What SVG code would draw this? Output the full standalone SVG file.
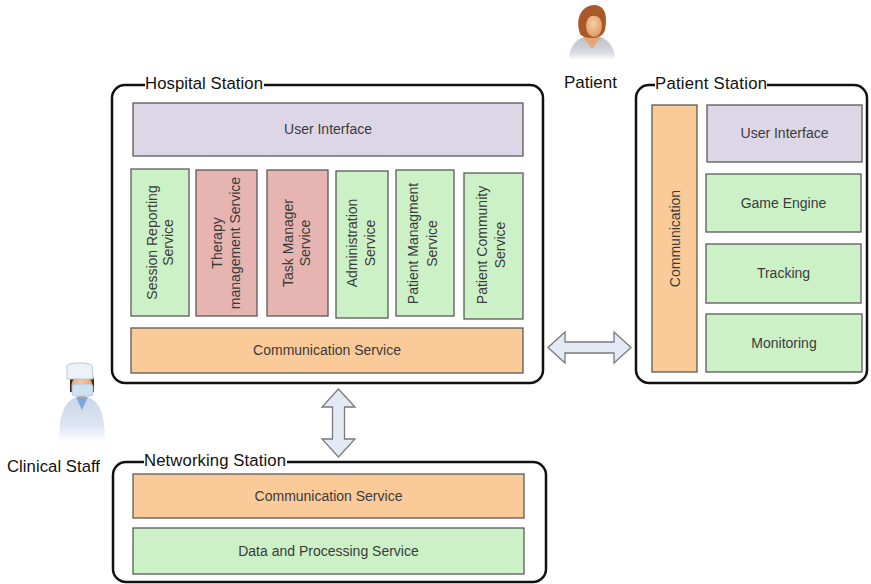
<svg xmlns="http://www.w3.org/2000/svg" width="871" height="584" viewBox="0 0 871 584">
  <defs>
    <style>
      .frame { fill: none; stroke: #111; stroke-width: 2.5; }
      .title { font-family: "Liberation Sans", Arial, sans-serif; font-size: 16.7px; fill: #111; }
      .box { stroke: #5a5a5a; stroke-width: 1.3; }
      .ui { fill: #ddd6e6; }
      .svc { fill: #cdf1c7; }
      .red { fill: #e6b4b1; }
      .comm { fill: #fbca99; }
      .lbl { font-family: "Liberation Sans", Arial, sans-serif; font-size: 14px; fill: #3a3a3a; text-anchor: middle; }
      .arrow { fill: #e3eaf6; stroke: #7a7a7a; stroke-width: 1.3; stroke-linejoin: miter; }
    </style>
    <linearGradient id="shirtGrey" x1="0" y1="0" x2="0" y2="1">
      <stop offset="0" stop-color="#b9bec6"/>
      <stop offset="0.7" stop-color="#d9dce1"/>
      <stop offset="1" stop-color="#ffffff"/>
    </linearGradient>
    <linearGradient id="coatBlue" x1="0" y1="0" x2="0" y2="1">
      <stop offset="0" stop-color="#c9d6ea"/>
      <stop offset="0.65" stop-color="#dde5f2"/>
      <stop offset="1" stop-color="#ffffff"/>
    </linearGradient>
    <radialGradient id="skin" cx="0.45" cy="0.4" r="0.6">
      <stop offset="0" stop-color="#f8cfa6"/>
      <stop offset="1" stop-color="#e09a66"/>
    </radialGradient>
  </defs>

  <!-- people -->
  <g id="patient">
    <path d="M569,60 C569,44 579,36 592,36 C605,36 615,44 615,60 Z" fill="url(#shirtGrey)"/>
    <path d="M583,37 L601,37 L592,49 Z" fill="#e6a676"/>
    <path d="M580,34 C574,16 584,5 594,5 C604,5 608,14 605,30 C603,36 598,38 592,38 C586,38 583,37 580,34 Z" fill="#a9592a"/>
    <ellipse cx="594" cy="26" rx="8" ry="11" fill="url(#skin)"/>
    <path d="M585,20 C588,10 600,10 603,20 C598,15 590,14 585,20 Z" fill="#a9592a"/>
    <text class="title" x="564" y="88" style="font-size:17px">Patient</text>
  </g>

  <g id="clinical-staff">
    <path d="M59,442 C59,410 66,398 82,396 C98,398 105,410 105,442 Z" fill="url(#coatBlue)"/>
    <path d="M76,397 L88,397 L82,410 Z" fill="#7fa6d4"/>
    <path d="M70,380 C70,370 94,370 94,380 L94,392 L70,392 Z" fill="#3a2a20"/>
    <ellipse cx="82" cy="386" rx="10.5" ry="11" fill="url(#skin)"/>
    <rect x="72" y="384" width="21" height="12" rx="3" fill="#cfe1f1" stroke="#a8c0da" stroke-width="0.8"/>
    <path d="M67,366 C67,362 91,362 92,366 L93,379 L67,379 Z" fill="#edf2f9" stroke="#b9c6d8" stroke-width="1"/>
    <text class="title" x="7" y="472" textLength="93">Clinical Staff</text>
  </g>

  <!-- Hospital Station -->
  <g id="hospital-station">
    <path class="frame" d="M264,85 H530 A13,13 0 0 1 543,98 V370 A13,13 0 0 1 530,383 H125 A13,13 0 0 1 112,370 V98 A13,13 0 0 1 125,85 H145"/>
    <text class="title" x="145" y="89" textLength="118">Hospital Station</text>

    <g id="hs-user-interface">
      <rect class="box ui" x="133" y="103" width="390" height="53"/>
      <text class="lbl" x="328" y="134">User Interface</text>
    </g>
    <g id="hs-session-reporting">
      <rect class="box svc" x="131" y="169" width="58" height="147"/>
      <text class="lbl" transform="translate(160,242.5) rotate(-90)"><tspan x="0" y="-3">Session Reporting</tspan><tspan x="0" y="13">Service</tspan></text>
    </g>
    <g id="hs-therapy-management">
      <rect class="box red" x="196" y="170" width="61" height="146"/>
      <text class="lbl" transform="translate(226.5,243) rotate(-90)"><tspan x="0" y="-4.5">Therapy</tspan><tspan x="0" y="13.5">management Service</tspan></text>
    </g>
    <g id="hs-task-manager">
      <rect class="box red" x="267" y="170" width="61" height="146"/>
      <text class="lbl" transform="translate(297.5,243) rotate(-90)"><tspan x="0" y="-4.5">Task Manager</tspan><tspan x="0" y="12.5">Service</tspan></text>
    </g>
    <g id="hs-administration">
      <rect class="box svc" x="336" y="171" width="52" height="147"/>
      <text class="lbl" transform="translate(362,243) rotate(-90)"><tspan x="0" y="-5">Administration</tspan><tspan x="0" y="13">Service</tspan></text>
    </g>
    <g id="hs-patient-managment">
      <rect class="box svc" x="396" y="170" width="58" height="146"/>
      <text class="lbl" transform="translate(425,243.5) rotate(-90)"><tspan x="0" y="-7">Patient Managment</tspan><tspan x="0" y="12">Service</tspan></text>
    </g>
    <g id="hs-patient-community">
      <rect class="box svc" x="464" y="173" width="59" height="146"/>
      <text class="lbl" transform="translate(493.5,245) rotate(-90)"><tspan x="0" y="-6.5">Patient Community</tspan><tspan x="0" y="11.5">Service</tspan></text>
    </g>
    <g id="hs-communication">
      <rect class="box comm" x="131" y="328" width="392" height="45"/>
      <text class="lbl" x="327" y="355">Communication Service</text>
    </g>
  </g>

  <!-- Patient Station -->
  <g id="patient-station">
    <path class="frame" d="M767,85 H854 A13,13 0 0 1 867,98 V370 A13,13 0 0 1 854,383 H649 A13,13 0 0 1 636,370 V98 A13,13 0 0 1 649,85 H655"/>
    <text class="title" x="655" y="89" textLength="112">Patient Station</text>

    <g id="ps-communication">
      <rect class="box comm" x="652" y="105" width="45" height="267"/>
      <text class="lbl" transform="translate(674.5,238.5) rotate(-90)"><tspan x="0" y="5">Communication</tspan></text>
    </g>
    <g id="ps-user-interface">
      <rect class="box ui" x="707" y="105" width="155" height="57"/>
      <text class="lbl" x="784.5" y="138">User Interface</text>
    </g>
    <g id="ps-game-engine">
      <rect class="box svc" x="706" y="174" width="155" height="58"/>
      <text class="lbl" x="783.5" y="208">Game Engine</text>
    </g>
    <g id="ps-tracking">
      <rect class="box svc" x="706" y="244" width="155" height="59"/>
      <text class="lbl" x="783.5" y="278">Tracking</text>
    </g>
    <g id="ps-monitoring">
      <rect class="box svc" x="706" y="314" width="156" height="58"/>
      <text class="lbl" x="784" y="348">Monitoring</text>
    </g>
  </g>

  <!-- Networking Station -->
  <g id="networking-station">
    <path class="frame" d="M287,462 H533 A13,13 0 0 1 546,475 V569 A13,13 0 0 1 533,582 H126 A13,13 0 0 1 113,569 V475 A13,13 0 0 1 126,462 H144"/>
    <text class="title" x="144" y="466" textLength="142">Networking Station</text>

    <g id="ns-communication">
      <rect class="box comm" x="133" y="474" width="391" height="44"/>
      <text class="lbl" x="328.5" y="501">Communication Service</text>
    </g>
    <g id="ns-data-processing">
      <rect class="box svc" x="133" y="528" width="391" height="46"/>
      <text class="lbl" x="328.5" y="556">Data and Processing Service</text>
    </g>
  </g>

  <!-- connectors -->
  <g id="connectors">
    <path class="arrow" d="M548,347.5 L565,332 L565,342 L614,342 L614,332 L631,347.5 L614,363 L614,353 L565,353 L565,363 Z"/>
    <path class="arrow" d="M338.5,389 L355,407 L344.5,407 L344.5,439 L355,439 L338.5,457 L322,439 L332.5,439 L332.5,407 L322,407 Z"/>
  </g>
</svg>
